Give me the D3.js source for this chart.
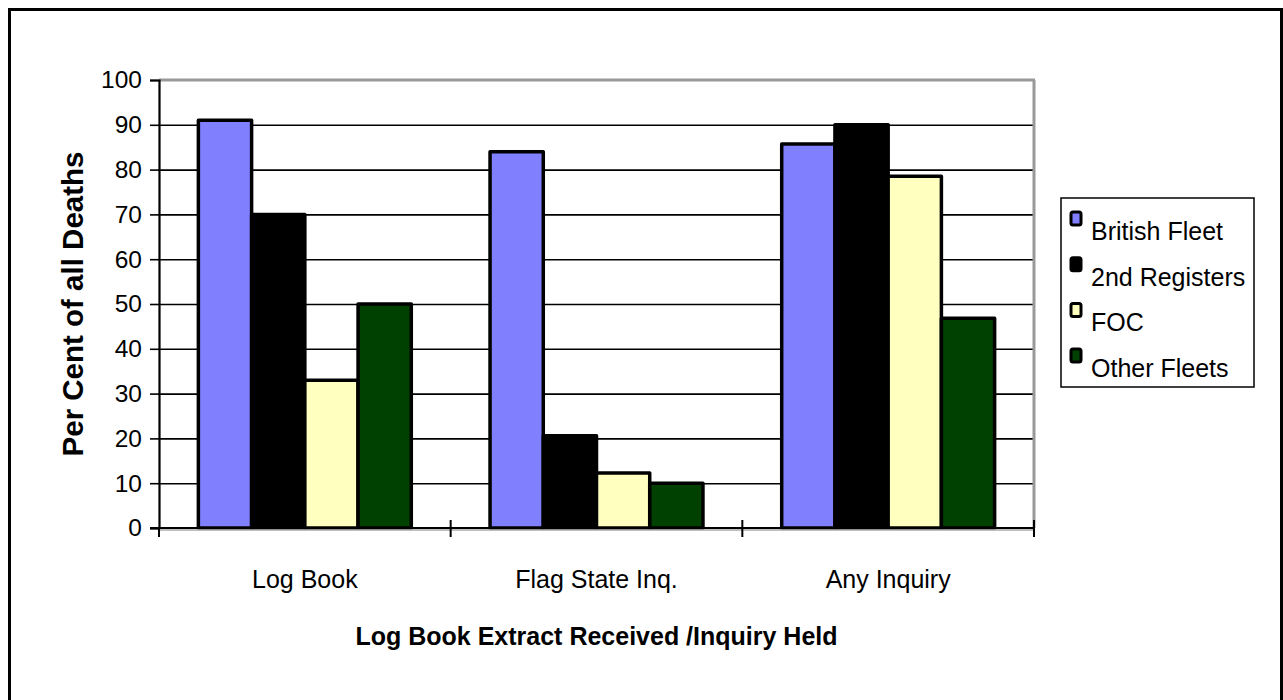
<!DOCTYPE html>
<html>
<head>
<meta charset="utf-8">
<script src="https://cdn.jsdelivr.net/npm/d3@7/dist/d3.min.js"></script>
<style>
  html, body { margin: 0; padding: 0; background: #fff; }
  svg { display: block; font-family: "Liberation Sans", Arial, sans-serif; }
</style>
</head>
<body>
<svg id="chart" width="1283" height="700"></svg>
<script>
// Share of deaths with a log book extract received / inquiry held, by fleet type
const categories = ["Log Book", "Flag State Inq.", "Any Inquiry"];
const seriesNames = ["British Fleet", "2nd Registers", "FOC", "Other Fleets"];
const britishFleet = [91, 84, 85.7];
const secondRegisters = [70, 20.6, 90];
const foc = [33, 12.3, 78.5];
const otherFleets = [50, 10, 46.8];
const seriesColors = ["#8080ff", "#000000", "#ffffc0", "#004000"];
const yTicks = [0, 10, 20, 30, 40, 50, 60, 70, 80, 90, 100];

const seriesValues = [britishFleet, secondRegisters, foc, otherFleets];

const svg = d3.select("#chart");
const plot = { left: 159, right: 1034, top: 80, bottom: 528 };

// Outer frame
svg.append("rect")
  .attr("x", 9.5).attr("y", 9.5)
  .attr("width", 1272).attr("height", 700)
  .attr("fill", "none").attr("stroke", "#000").attr("stroke-width", 3);

const y = d3.scaleLinear().domain([0, 100]).range([plot.bottom, plot.top]);
const x0 = d3.scaleBand().domain(categories).range([plot.left, plot.right]).padding(0);
const groupPad = x0.bandwidth() * 0.135;
const x1 = d3.scaleBand().domain(seriesNames).range([groupPad, x0.bandwidth() - groupPad]).padding(0);

// Horizontal gridlines
svg.append("g")
  .attr("transform", `translate(${plot.left},0)`)
  .call(d3.axisLeft(y).tickValues(yTicks.filter(v => v > 0 && v < 100)).tickSize(-(plot.right - plot.left)).tickFormat(""))
  .call(g => g.select(".domain").remove())
  .call(g => g.selectAll("line").attr("stroke", "#000").attr("stroke-width", 1.6));

// Plot area top and right borders
svg.append("line")
  .attr("x1", plot.left).attr("x2", plot.right + 1)
  .attr("y1", plot.top).attr("y2", plot.top)
  .attr("stroke", "#999").attr("stroke-width", 3);
svg.append("line")
  .attr("x1", plot.right).attr("x2", plot.right)
  .attr("y1", plot.top).attr("y2", plot.bottom)
  .attr("stroke", "#999").attr("stroke-width", 3);

// Bars
const rows = [];
categories.forEach((c, ci) => {
  seriesNames.forEach((s, si) => {
    rows.push({ cat: c, series: s, value: seriesValues[si][ci], color: seriesColors[si] });
  });
});

svg.append("g").selectAll("rect")
  .data(rows)
  .join("rect")
  .attr("x", d => x0(d.cat) + x1(d.series))
  .attr("y", d => y(d.value))
  .attr("width", x1.bandwidth())
  .attr("height", d => y(0) - y(d.value))
  .attr("fill", d => d.color)
  .attr("stroke", "#000")
  .attr("stroke-width", 3.5)
  .attr("stroke-linejoin", "round");

// Y axis
const yAxis = svg.append("g")
  .attr("transform", `translate(${plot.left},0)`)
  .call(d3.axisLeft(y).tickValues(yTicks).tickSize(9).tickPadding(8));
yAxis.select(".domain").attr("stroke", "#000").attr("stroke-width", 2.2);
yAxis.selectAll(".tick line").attr("stroke", "#000").attr("stroke-width", 1.6);
yAxis.selectAll(".tick text")
  .attr("fill", "#000")
  .attr("font-size", 24.5)
  .attr("font-family", "Liberation Sans, Arial, sans-serif");

// X axis baseline with category boundary ticks
svg.append("line")
  .attr("x1", plot.left).attr("x2", plot.right + 1)
  .attr("y1", plot.bottom + 2).attr("y2", plot.bottom + 2)
  .attr("stroke", "#aaa").attr("stroke-width", 1.5);
svg.append("line")
  .attr("x1", plot.left - 9).attr("x2", plot.right + 1)
  .attr("y1", plot.bottom).attr("y2", plot.bottom)
  .attr("stroke", "#000").attr("stroke-width", 2);

const boundaries = categories.map(c => x0(c)).concat([x0.range()[1]]);
svg.append("g").selectAll("line")
  .data(boundaries)
  .join("line")
  .attr("x1", d => d).attr("x2", d => d)
  .attr("y1", (d, i) => i === 0 ? plot.bottom : plot.bottom - 8)
  .attr("y2", plot.bottom + 9)
  .attr("stroke", "#000").attr("stroke-width", 2);

// Category labels
const xAxis = svg.append("g")
  .attr("transform", `translate(0,${plot.bottom})`)
  .call(d3.axisBottom(x0).tickSize(0).tickPadding(0));
xAxis.select(".domain").remove();
xAxis.selectAll(".tick text")
  .attr("y", 60)
  .attr("dy", null)
  .attr("fill", "#000")
  .attr("font-size", 25)
  .attr("font-family", "Liberation Sans, Arial, sans-serif");

// Axis titles
svg.append("text")
  .attr("x", (plot.left + plot.right) / 2)
  .attr("y", 645)
  .attr("text-anchor", "middle")
  .attr("font-size", 25)
  .attr("font-weight", "bold")
  .text("Log Book Extract Received /Inquiry Held");

svg.append("text")
  .attr("transform", `translate(83,${(plot.top + plot.bottom) / 2}) rotate(-90)`)
  .attr("text-anchor", "middle")
  .attr("font-size", 29.5)
  .attr("font-weight", "bold")
  .text("Per Cent of all Deaths");

// Legend
const legend = svg.append("g");
legend.append("rect")
  .attr("x", 1061).attr("y", 198)
  .attr("width", 193).attr("height", 189)
  .attr("fill", "#fff").attr("stroke", "#000").attr("stroke-width", 1.5);

const legendRows = legend.selectAll("g.item")
  .data(seriesNames)
  .join("g")
  .attr("class", "item")
  .attr("transform", (d, i) => `translate(1071,${240 + i * 45.7})`);

legendRows.append("rect")
  .attr("x", 0).attr("y", -28)
  .attr("width", 10).attr("height", 13)
  .attr("rx", 2)
  .attr("fill", (d, i) => seriesColors[i])
  .attr("stroke", "#000").attr("stroke-width", 3);

legendRows.append("text")
  .attr("x", 20).attr("y", 0)
  .attr("font-size", 25)
  .attr("fill", "#000")
  .text(d => d);
</script>
</body>
</html>
